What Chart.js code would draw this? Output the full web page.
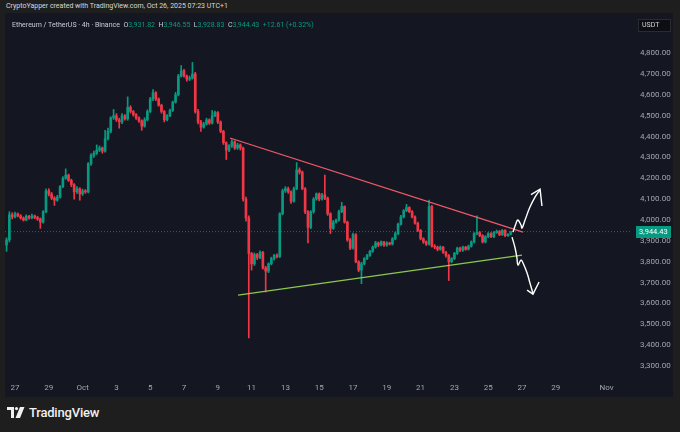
<!DOCTYPE html>
<html>
<head>
<meta charset="utf-8">
<script src="https://cdn.jsdelivr.net/npm/chart.js@4.4.1/dist/chart.umd.min.js"></script>
<style>
  html, body { margin: 0; padding: 0; }
  body { width: 680px; height: 432px; background: #1e1e1e; position: relative; overflow: hidden; font-family: Roboto, "Liberation Sans", sans-serif; }
  #hdr { position: absolute; left: 6px; top: 1px; font-size: 7px; line-height: 10px; color: #d9d9d9; }
  #pane { position: absolute; left: 5px; top: 13px; width: 668px; height: 384px; background: #141722; }
  #chart { position: absolute; left: 0; top: 0; }
  #legend { position: absolute; left: 7px; top: 7px; font-size: 7px; line-height: 10px; color: #c9ccd4; white-space: pre; }
  #legend .v { color: #089981; }
  #logo { position: absolute; left: 7px; top: 404px; height: 16px; display: flex; align-items: center; color: #f0f0f0; font-size: 13px; font-weight: 500; letter-spacing: -0.2px; }
  #logo svg { margin-right: 4px; }
</style>
</head>
<body>
<div id="hdr">CryptoYapper created with TradingView.com, Oct 26, 2025 07:23 UTC+1</div>
<div id="pane">
  <canvas id="chart" width="668" height="384"></canvas>
  <div id="legend">Ethereum / TetherUS · 4h · Binance  O<span class="v">3,931.82</span>  H<span class="v">3,946.55</span>  L<span class="v">3,928.83</span>  C<span class="v">3,944.43</span>  <span class="v">+12.61 (+0.32%)</span></div>
</div>
<div id="logo">
  <svg width="18" height="11" viewBox="0 0 18 11"><path d="M0 0h7v11H4V3H0z" fill="#f0f0f0"/><circle cx="9.5" cy="1.6" r="1.6" fill="#f0f0f0"/><path d="M13 0h4.5l-4.5 11H8.5z" fill="#f0f0f0"/></svg>
  TradingView
</div>
<script>
// --- Data (4h candles, ETH/USDT, from Sep 26 afternoon to Oct 26 morning) ---
// x axis is in days counted from Sep 26 00:00
const firstCandleDay = 0.5;
const candleStep = 1 / 6; // 4 hours

const opens = [
  3880, 3905, 4025, 4015, 4030, 4020, 4010, 4000, 4018, 4010, 4020, 4012,
  4005, 3990, 4040, 4140, 4125, 4105, 4095, 4110, 4160, 4200, 4215, 4190,
  4170, 4135, 4150, 4125, 4140, 4135, 4270, 4310, 4320, 4335, 4345, 4330,
  4390, 4425, 4490, 4500, 4480, 4470, 4500, 4485, 4540, 4520, 4505, 4490,
  4475, 4450, 4480, 4520, 4580, 4610, 4580, 4550, 4520, 4480, 4500, 4525,
  4565, 4600, 4690, 4715, 4690, 4675, 4680, 4700, 4520, 4470, 4445, 4460,
  4480, 4465, 4500, 4515, 4470, 4425, 4370, 4335, 4355, 4375, 4345, 4360,
  4345, 4100, 4010, 3840, 3790, 3835, 3820, 3845, 3770, 3755, 3790, 3815,
  3830, 3825, 4030, 4140, 4150, 4135, 4090, 4150, 4240, 4230, 4150, 4040,
  3965, 4040, 4100, 4125, 4100, 4120, 4105, 4030, 3960, 3990, 4000, 4040,
  4065, 3990, 3905, 3865, 3930, 3800, 3760, 3790, 3815, 3830, 3850, 3870,
  3890, 3880, 3895, 3880, 3890, 3885, 3910, 3935, 3980, 4015, 4045, 4060,
  4040, 4015, 3985, 3950, 3910, 3895, 3885, 4065, 3875, 3870, 3860, 3870,
  3845, 3830, 3800, 3815, 3840, 3865, 3855, 3870, 3860, 3875, 3895, 3935,
  3940, 3925, 3895, 3920, 3935, 3920, 3940, 3945, 3930, 3950, 3925, 3931.82
];
const highs = [
  3915, 4040, 4035, 4038, 4034, 4026, 4015, 4025, 4022, 4028, 4024, 4018,
  4010, 4045, 4150, 4150, 4132, 4112, 4118, 4165, 4208, 4245, 4220, 4196,
  4175, 4160, 4155, 4148, 4146, 4275, 4318, 4330, 4360, 4355, 4350, 4430,
  4440, 4495, 4530, 4510, 4488, 4510, 4505, 4590, 4548, 4525, 4510, 4494,
  4480, 4490, 4528, 4588, 4625, 4615, 4585, 4555, 4525, 4505, 4532, 4570,
  4612, 4698, 4740, 4722, 4695, 4690, 4755, 4708, 4530, 4478, 4468, 4488,
  4485, 4525, 4522, 4520, 4475, 4430, 4375, 4362, 4385, 4380, 4368, 4365,
  4350, 4110, 4020, 3845, 3842, 3840, 3852, 3850, 3778, 3795, 3822, 3836,
  3838, 4035, 4148, 4160, 4158, 4140, 4158, 4275, 4250, 4235, 4155, 4045,
  4045, 4108, 4130, 4130, 4128, 4215, 4110, 4035, 3998, 4005, 4048, 4085,
  4068, 3995, 3912, 3938, 3935, 3805, 3798, 3820, 3836, 3855, 3876, 3898,
  3895, 3900, 3898, 3896, 3894, 3916, 3942, 3985, 4022, 4050, 4075, 4064,
  4045, 4020, 3990, 3955, 3915, 3900, 4095, 4070, 3882, 3875, 3876, 3874,
  3850, 3835, 3820, 3845, 3870, 3870, 3875, 3874, 3880, 3900, 3940, 4020,
  3945, 3930, 3925, 3940, 3940, 3945, 3952, 3950, 3955, 3954, 3935, 3946.55
];
const lows = [
  3850, 3895, 4005, 4010, 4015, 4004, 3995, 3996, 4004, 4005, 4006, 3998,
  3960, 3985, 4035, 4115, 4098, 4070, 4090, 4105, 4155, 4195, 4185, 4160,
  4100, 4128, 4095, 4118, 4128, 4130, 4262, 4300, 4314, 4328, 4320, 4325,
  4384, 4418, 4482, 4472, 4440, 4462, 4478, 4478, 4512, 4498, 4482, 4468,
  4430, 4445, 4475, 4515, 4572, 4572, 4545, 4512, 4470, 4475, 4495, 4520,
  4560, 4595, 4685, 4684, 4665, 4668, 4675, 4512, 4460, 4425, 4440, 4455,
  4458, 4460, 4495, 4462, 4418, 4362, 4290, 4328, 4348, 4338, 4338, 4335,
  4090, 3995, 3435, 3760, 3782, 3810, 3815, 3765, 3655, 3748, 3785, 3808,
  3818, 3820, 4025, 4132, 4128, 4080, 4085, 4145, 4220, 4145, 4030, 3890,
  3958, 4032, 4095, 4092, 4095, 4098, 4022, 3935, 3955, 3985, 3995, 4035,
  3985, 3898, 3858, 3860, 3795, 3752, 3695, 3785, 3810, 3825, 3845, 3865,
  3872, 3876, 3874, 3874, 3880, 3880, 3905, 3930, 3975, 4010, 4040, 4035,
  4010, 3980, 3945, 3905, 3888, 3878, 3880, 3870, 3862, 3852, 3855, 3840,
  3822, 3710, 3795, 3810, 3835, 3848, 3850, 3855, 3856, 3870, 3890, 3930,
  3920, 3890, 3890, 3915, 3915, 3915, 3936, 3925, 3926, 3920, 3922, 3928.83
];
const closes = [
  3905, 4025, 4015, 4030, 4020, 4010, 4000, 4018, 4010, 4020, 4012, 4005,
  3990, 4040, 4140, 4125, 4105, 4095, 4110, 4160, 4200, 4215, 4190, 4170,
  4135, 4150, 4125, 4140, 4135, 4270, 4310, 4320, 4335, 4345, 4330, 4390,
  4425, 4490, 4500, 4480, 4470, 4500, 4485, 4540, 4520, 4505, 4490, 4475,
  4450, 4480, 4520, 4580, 4610, 4580, 4550, 4520, 4480, 4500, 4525, 4565,
  4600, 4690, 4715, 4690, 4675, 4680, 4700, 4520, 4470, 4445, 4460, 4480,
  4465, 4500, 4515, 4470, 4425, 4370, 4335, 4355, 4375, 4345, 4360, 4345,
  4100, 4010, 3840, 3790, 3835, 3820, 3845, 3770, 3755, 3790, 3815, 3830,
  3825, 4030, 4140, 4150, 4135, 4090, 4150, 4240, 4230, 4150, 4040, 3965,
  4040, 4100, 4125, 4100, 4120, 4105, 4030, 3960, 3990, 4000, 4040, 4065,
  3990, 3905, 3865, 3930, 3800, 3760, 3790, 3815, 3830, 3850, 3870, 3890,
  3880, 3895, 3880, 3890, 3885, 3910, 3935, 3980, 4015, 4045, 4060, 4040,
  4015, 3985, 3950, 3910, 3895, 3885, 4065, 3875, 3870, 3860, 3870, 3845,
  3830, 3800, 3815, 3840, 3865, 3855, 3870, 3860, 3875, 3895, 3935, 3940,
  3925, 3895, 3920, 3935, 3920, 3940, 3945, 3930, 3950, 3925, 3931.82, 3944.43
];

// axis ticks
const dayTicks  = [1, 3, 5, 7, 9, 11, 13, 15, 17, 19, 21, 23, 25, 27, 29, 31, 33, 36];
const dayLabels = ['27', '29', 'Oct', '3', '5', '7', '9', '11', '13', '15', '17', '19', '21', '23', '25', '27', '29', 'Nov'];
const priceTicks = [3300, 3400, 3500, 3600, 3700, 3800, 3900, 4000, 4100, 4200, 4300, 4400, 4500, 4600, 4700, 4800];

// drawn trend lines (day, price)
const resistanceLine = [{ x: 13.72, y: 4393 }, { x: 31.06, y: 3942 }];
const supportLine    = [{ x: 14.20, y: 3640 }, { x: 31.00, y: 3832 }];

// hand drawn arrows (day, price)
const upArrow = [
  { x: 30.47, y: 3942 }, { x: 30.65, y: 3985 }, { x: 30.76, y: 4000 }, { x: 30.94, y: 3976 },
  { x: 31.00, y: 3961 }, { x: 31.18, y: 4000 }, { x: 31.47, y: 4062 }, { x: 31.77, y: 4110 },
  { x: 32.07, y: 4145 }
];
const upArrowHead = [{ x: 31.53, y: 4122 }, { x: 32.07, y: 4148 }, { x: 32.18, y: 4067 }];
const downArrow = [
  { x: 30.41, y: 3918 }, { x: 30.59, y: 3866 }, { x: 30.70, y: 3818 }, { x: 30.76, y: 3784 },
  { x: 30.94, y: 3808 }, { x: 31.06, y: 3794 }, { x: 31.30, y: 3746 }, { x: 31.47, y: 3698 },
  { x: 31.65, y: 3648 }
];
const downArrowHead = [{ x: 31.30, y: 3664 }, { x: 31.65, y: 3645 }, { x: 32.01, y: 3703 }];

const xMin = 0.408, xMax = 37.39;
const yMin = 3243, yMax = 4992;

const UP = '#089981';
const DOWN = '#f23645';

// --- Build datasets ---
const lastClose = closes[closes.length - 1];
const days = closes.map((c, i) => firstCandleDay + i * candleStep);
const candleColors = closes.map((c, i) => c >= opens[i] ? UP : DOWN);

const wickData = days.map((d, i) => ({ x: d, y: [lows[i], highs[i]] }));
const bodyData = days.map((d, i) => ({ x: d, y: [opens[i], closes[i]] }));

function lineSet(data, color, width, order, extra) {
  return Object.assign({
    type: 'line',
    data: data,
    borderColor: color,
    borderWidth: width,
    pointRadius: 0,
    fill: false,
    order: order
  }, extra || {});
}

// price tag + USDT box on the right axis
const axisBoxes = {
  id: 'axisBoxes',
  afterDraw(chart) {
    const c = chart.ctx;
    const yScale = chart.scales.y;
    const py = Math.round(yScale.getPixelForValue(lastClose));
    c.save();
    c.fillStyle = UP;
    c.fillRect(631, py - 6, 35, 12);
    c.fillStyle = '#ffffff';
    c.font = '7.5px Roboto, sans-serif';
    c.textBaseline = 'middle';
    c.textAlign = 'left';
    c.fillText('3,944.43', 634, py + 0.5);

    c.fillStyle = '#0c0e13';
    c.fillRect(633, 6, 33, 13);
    c.strokeStyle = 'rgba(255,255,255,0.12)';
    c.lineWidth = 1;
    c.strokeRect(633.5, 6.5, 32, 12);
    c.fillStyle = '#d1d4dc';
    c.font = '7px Roboto, sans-serif';
    c.fillText('USDT', 637, 12.5);
    c.restore();
  }
};

new Chart(document.getElementById('chart'), {
  type: 'bar',
  data: {
    datasets: [
      {
        data: wickData,
        backgroundColor: candleColors,
        barThickness: 1,
        grouped: false,
        order: 10
      },
      {
        data: bodyData,
        backgroundColor: candleColors,
        barThickness: 2,
        minBarLength: 1,
        grouped: false,
        order: 9
      },
      lineSet([{ x: xMin, y: lastClose }, { x: xMax, y: lastClose }], 'rgba(8,153,129,0.7)', 1, 12, { borderDash: [1, 2] }),
      lineSet(resistanceLine, '#f25a68', 1.2, 2),
      lineSet(supportLine, '#8cc84b', 1.2, 2),
      lineSet(upArrow, '#ffffff', 1.4, 1, { tension: 0.4 }),
      lineSet(upArrowHead, '#ffffff', 1.4, 1),
      lineSet(downArrow, '#ffffff', 1.4, 1, { tension: 0.4 }),
      lineSet(downArrowHead, '#ffffff', 1.4, 1)
    ]
  },
  options: {
    responsive: false,
    animation: false,
    layout: { padding: 0 },
    plugins: {
      legend: { display: false },
      tooltip: { enabled: false }
    },
    scales: {
      x: {
        type: 'linear',
        min: xMin,
        max: xMax,
        offset: false,
        grid: { display: false, drawTicks: false },
        border: { display: false },
        ticks: {
          color: '#a3a6af',
          font: { family: 'Roboto', size: 8 },
          padding: 5,
          autoSkip: false,
          maxRotation: 0,
          callback: (v, i) => dayLabels[i]
        },
        afterBuildTicks: s => { s.ticks = dayTicks.map(v => ({ value: v })); },
        afterFit: s => {
          s.height = 19;
          s.paddingLeft = 0;
          s.paddingRight = 0;
        }
      },
      y: {
        position: 'right',
        min: yMin,
        max: yMax,
        grid: { display: false, drawTicks: true, tickLength: 10 },
        border: { display: false },
        ticks: {
          color: '#a3a6af',
          font: { family: 'Roboto', size: 8 },
          padding: 0,
          crossAlign: 'near',
          callback: v => v.toLocaleString('en-US', { minimumFractionDigits: 2, maximumFractionDigits: 2 })
        },
        afterBuildTicks: s => { s.ticks = priceTicks.map(v => ({ value: v })); },
        afterFit: s => {
          s.width = 43;
          s.paddingTop = 0;
          s.paddingBottom = 0;
        }
      }
    }
  },
  plugins: [axisBoxes]
});
</script>
</body>
</html>
